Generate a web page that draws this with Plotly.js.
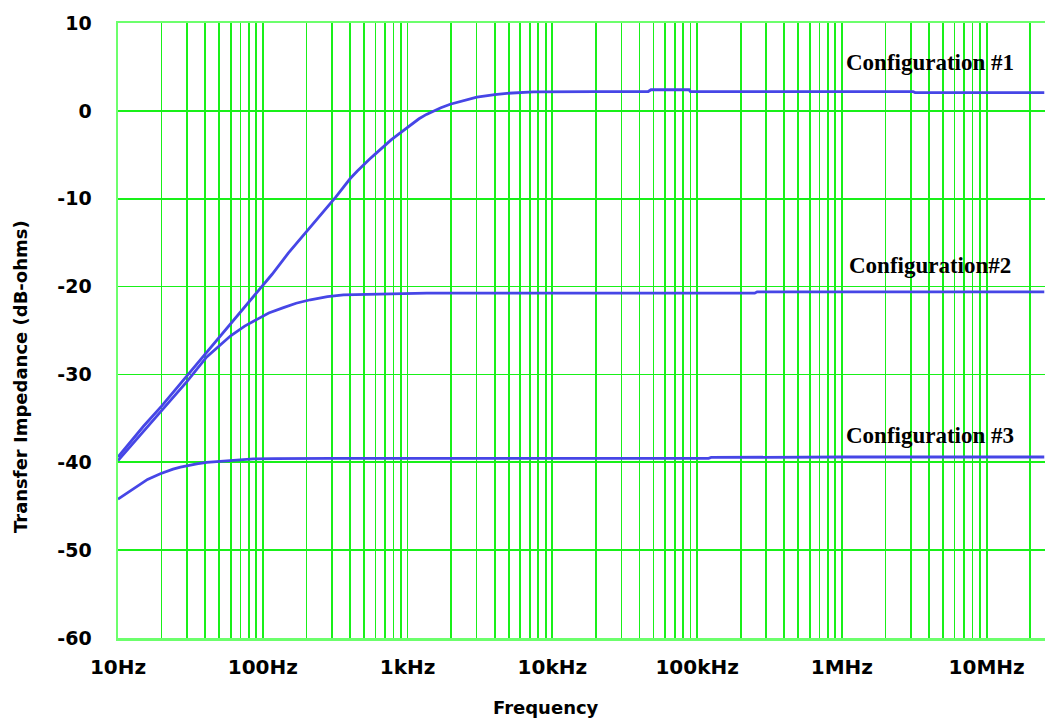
<!DOCTYPE html>
<html>
<head>
<meta charset="utf-8">
<script src="https://cdn.plot.ly/plotly-3.0.1.min.js"></script>
<style>
  html, body { margin: 0; padding: 0; background: #ffffff; overflow: hidden; }
  #chart { width: 1045px; height: 719px; }
</style>
</head>
<body>
<div id="chart"></div>
<script>
// ---- Data ----
const cfg1Freq = [10,12,15,20,25,30,40,50,60,80,100,116,150,200,263,320,360,402,450,497,550,600,682,770,850,988,1100,1200,1350,1510,1700,1970,2500,3010,4000,4850,7400,11900,20000,46000,48000,88000,90000,1000000,3100000,3200000,25000000];
const cfg1Db   = [-39.4,-37.8,-35.9,-33.6,-31.7,-30.2,-27.7,-25.8,-24.2,-21.8,-19.9,-18.6,-16.2,-13.8,-11.5,-9.8,-8.7,-7.7,-6.85,-6.1,-5.45,-4.9,-4.05,-3.3,-2.75,-1.9,-1.35,-0.9,-0.4,0.0,0.35,0.75,1.2,1.55,1.85,2.0,2.15,2.2,2.2,2.2,2.4,2.4,2.2,2.2,2.2,2.08,2.08];

const cfg2Freq = [10,12,15,20,25,30,41,50,60,75,91,110,139,170,213,280,361,614,1000,1360,250000,260000,25000000];
const cfg2Db   = [-39.8,-38.3,-36.4,-34.1,-32.3,-30.8,-28.0,-26.7,-25.6,-24.5,-23.7,-23.0,-22.4,-21.9,-21.5,-21.15,-20.95,-20.85,-20.8,-20.75,-20.75,-20.6,-20.6];

const cfg3Freq = [10,12,13.5,16,19.6,22,24,27,30,35,41,60,86,120,300,120000,125000,1000000,25000000];
const cfg3Db   = [-44.2,-43.35,-42.8,-41.95,-41.3,-40.98,-40.78,-40.55,-40.38,-40.18,-40.0,-39.77,-39.62,-39.58,-39.55,-39.55,-39.45,-39.4,-39.4];

const seriesNames = ["Configuration #1", "Configuration#2", "Configuration #3"];
const decadeLabels = ["10Hz","100Hz","1kHz","10kHz","100kHz","1MHz","10MHz"];
const yTickVals = [10,0,-10,-20,-30,-40,-50,-60];
const yTickText = ["10","0","-10","-20","-30","-40","-50","-60"];
const xTitle = "Frequency";
const yTitle = "Transfer Impedance (dB-ohms)";

// ---- Axis grid ticks (1..9 per decade, labels on decades) ----
const gridVals = [], gridText = [];
for (let d = 1; d <= 7; d++) {
  for (let m = 1; m <= 9; m++) {
    const v = m * Math.pow(10, d);
    if (v > 2.5e7) break;
    gridVals.push(v);
    gridText.push(m === 1 ? decadeLabels[d - 1] : "");
  }
}

const lineStyle = { color: "#4646e6", width: 2.8 };
const traces = [
  { x: cfg1Freq, y: cfg1Db, name: seriesNames[0], mode: "lines", line: lineStyle },
  { x: cfg2Freq, y: cfg2Db, name: seriesNames[1], mode: "lines", line: lineStyle },
  { x: cfg3Freq, y: cfg3Db, name: seriesNames[2], mode: "lines", line: lineStyle }
];

const tickFont = { family: "DejaVu Sans, Verdana, sans-serif", size: 20, color: "#000000", weight: "bold" };
const labelFont = { family: "Liberation Serif, Times New Roman, serif", size: 23, color: "#000000", weight: "bold" };

const layout = {
  width: 1045, height: 719,
  margin: { l: 118, r: 0, t: 23, b: 81 },
  paper_bgcolor: "#ffffff", plot_bgcolor: "#ffffff",
  showlegend: false,
  xaxis: {
    type: "log", range: [1, 7.403],
    tickvals: gridVals, ticktext: gridText,
    ticks: "", ticklabelstandoff: 9,
    tickfont: tickFont,
    showgrid: true, gridcolor: "#19f019", gridwidth: 1.7,
    showline: true, linecolor: "#6cff6c", linewidth: 2.5, mirror: true,
    zeroline: false, fixedrange: true
  },
  yaxis: {
    range: [-60, 10], tickvals: yTickVals, ticktext: yTickText,
    ticks: "", ticklabelstandoff: 20,
    tickfont: { family: "DejaVu Sans, Verdana, sans-serif", size: 19, color: "#000000", weight: "bold" },
    showgrid: true, gridcolor: "#19f019", gridwidth: 1.7,
    showline: true, linecolor: "#6cff6c", linewidth: 2.5,
    zeroline: false, fixedrange: true
  },
  annotations: [
    { x: 6.609, y: 5.45, xref: "x", yref: "y", text: seriesNames[0], showarrow: false, font: labelFont, xanchor: "center", yanchor: "middle" },
    { x: 6.609, y: -17.65, xref: "x", yref: "y", text: seriesNames[1], showarrow: false, font: labelFont, xanchor: "center", yanchor: "middle" },
    { x: 6.609, y: -37.0, xref: "x", yref: "y", text: seriesNames[2], showarrow: false, font: labelFont, xanchor: "center", yanchor: "middle" },
    { x: 3.957, y: -0.1138, xref: "x", yref: "paper", text: xTitle, showarrow: false,
      font: { family: "DejaVu Sans, Verdana, sans-serif", size: 18, color: "#000000", weight: "bold" }, xanchor: "center", yanchor: "middle" },
    { x: -0.1046, y: 0.4244, xref: "paper", yref: "paper", text: yTitle, showarrow: false, textangle: -90,
      font: { family: "DejaVu Sans, Verdana, sans-serif", size: 18, color: "#000000", weight: "bold" }, xanchor: "center", yanchor: "middle" }
  ]
};

Plotly.newPlot("chart", traces, layout, { displayModeBar: false, staticPlot: true });
</script>
</body>
</html>
